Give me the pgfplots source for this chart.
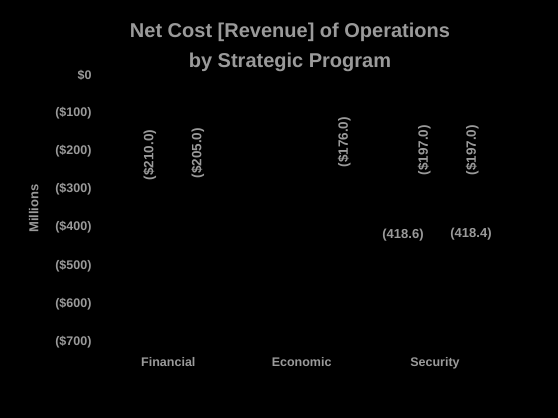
\documentclass[border=0pt]{standalone}
\usepackage{pgfplots}
\pgfplotsset{compat=1.18}
\usepackage{fontspec}
\setmainfont{Liberation Sans}
\definecolor{txt}{HTML}{9A9A9A}
\begin{document}
\begin{tikzpicture}[x=1pt,y=1pt]
\fill[black] (0,0) rectangle (558,418);
\path[use as bounding box] (0,0) rectangle (558,418);
\node[txt,font=\fontsize{20}{30}\selectfont\bfseries,align=center] at (290,371) {Net Cost [Revenue] of Operations\\by Strategic Program};
\begin{axis}[
  at={(95pt,76pt)}, anchor=south west,
  scale only axis, width=420pt, height=267pt,
  xmin=-0.55, xmax=2.6, ymin=-700, ymax=0,
  axis line style={draw=none}, major tick style={draw=none},
  /pgf/number format/assume math mode=true,
  xtick={0,1,2}, xticklabels={Financial,Economic,Security},
  ytick={0,-100,-200,-300,-400,-500,-600,-700},
  yticklabels={\$0,(\$100),(\$200),(\$300),(\$400),(\$500),(\$600),(\$700)},
  ticklabel style={txt,font=\fontsize{12.5}{14}\selectfont\bfseries},
  ylabel={Millions}, ylabel style={txt,font=\fontsize{13}{15}\selectfont\bfseries,yshift=6pt},
  ylabel shift=4pt,
  xticklabel shift=12pt,
  clip=false,
]
\addplot[ybar, bar width=14pt, fill=black, draw=none,
  nodes near coords={(\$\pgfmathprintnumber[fixed,precision=1,fixed zerofill]{\pgfplotspointmeta})},
  point meta={-y},
  nodes near coords style={txt,font=\fontsize{13.5}{15}\selectfont\bfseries,rotate=90,anchor=center}]
  coordinates {(-0.14,-210) (0.22,-205) (1.32,-176) (1.92,-197) (2.28,-197)};
\addplot[only marks, mark=none,
  nodes near coords={(\pgfmathprintnumber[fixed,precision=1,fixed zerofill]{\pgfplotspointmeta})},
  point meta={-y},
  nodes near coords style={txt,font=\fontsize{13}{15}\selectfont\bfseries,anchor=center}]
  coordinates {(1.76,-418.6) (2.27,-418.4)};
\end{axis}
\end{tikzpicture}
\end{document}
